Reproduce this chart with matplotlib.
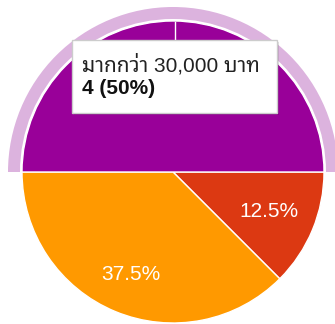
import numpy as np
import matplotlib
matplotlib.use("Agg")
import matplotlib.pyplot as plt
from matplotlib.patches import Wedge, Rectangle

# data (Google Forms style pie, starts at 3 o'clock)
labels = ["15,001 - 30,000 บาท", "ต่ำกว่า 15,000 บาท", "มากกว่า 30,000 บาท"]
counts = [1, 3, 4]
colors = ["#dc3912", "#ff9900", "#990099"]
tip_title = "มากกว่า 30,000 บาท"
tip_value = "4 (50%)"

fonts = ["Liberation Sans", "Noto Sans Thai Looped", "DejaVu Sans"]

W, H = 335, 324
fig = plt.figure(figsize=(W / 100, H / 100), dpi=100)
ax = fig.add_axes([0, 0, 1, 1])

cx, cy, R = 173, H - 172, 151

wedges, _ = ax.pie(counts, colors=colors, startangle=0, counterclock=False,
                   center=(cx, cy), radius=R,
                   wedgeprops=dict(edgecolor="white", linewidth=1), frame=True)
ax.set_xlim(0, W)
ax.set_ylim(0, H)
ax.axis("off")

# percent labels (the 50% one sits under the tooltip, so skip it)
total = sum(counts)
label_dist = [0.685, 0.735]
for w, n, d in zip(wedges[:2], counts[:2], label_dist):
    mid = np.deg2rad((w.theta1 + w.theta2) / 2)
    ax.text(cx + d * R * np.cos(mid), cy + d * R * np.sin(mid), f"{100 * n / total:.1f}%",
            color="white", fontsize=15, family=fonts, ha="center", va="center", zorder=4)

# highlight ring around hovered slice
ax.add_patch(Wedge((cx, cy), R + 14, 0, 180, width=12, facecolor="#dcb3de",
                   edgecolor="none", zorder=3))
ax.plot([cx + 2, cx + 2], [cy + R * 0.6, cy + R - 1], color="white", lw=1, zorder=3)

# tooltip
x0, y0, x1, y1 = 72, H - 113, 277, H - 40
ax.add_patch(Rectangle((x0 + 1.5, y0 - 1.5), x1 - x0, y1 - y0,
                       facecolor="#000000", alpha=0.12, edgecolor="none", zorder=4))
ax.add_patch(Rectangle((x0, y0), x1 - x0, y1 - y0,
                       facecolor="white", edgecolor="#cccccc", lw=1, zorder=5))
ax.text(x0 + 10, H - 65, tip_title, fontsize=15, color="#222222", family=fonts,
        va="center", ha="left", zorder=6)
ax.text(x0 + 10, H - 88, tip_value, fontsize=15, color="#111111", family=fonts,
        fontweight="bold", va="center", ha="left", zorder=6)

fig.savefig("out.png", dpi=100)
